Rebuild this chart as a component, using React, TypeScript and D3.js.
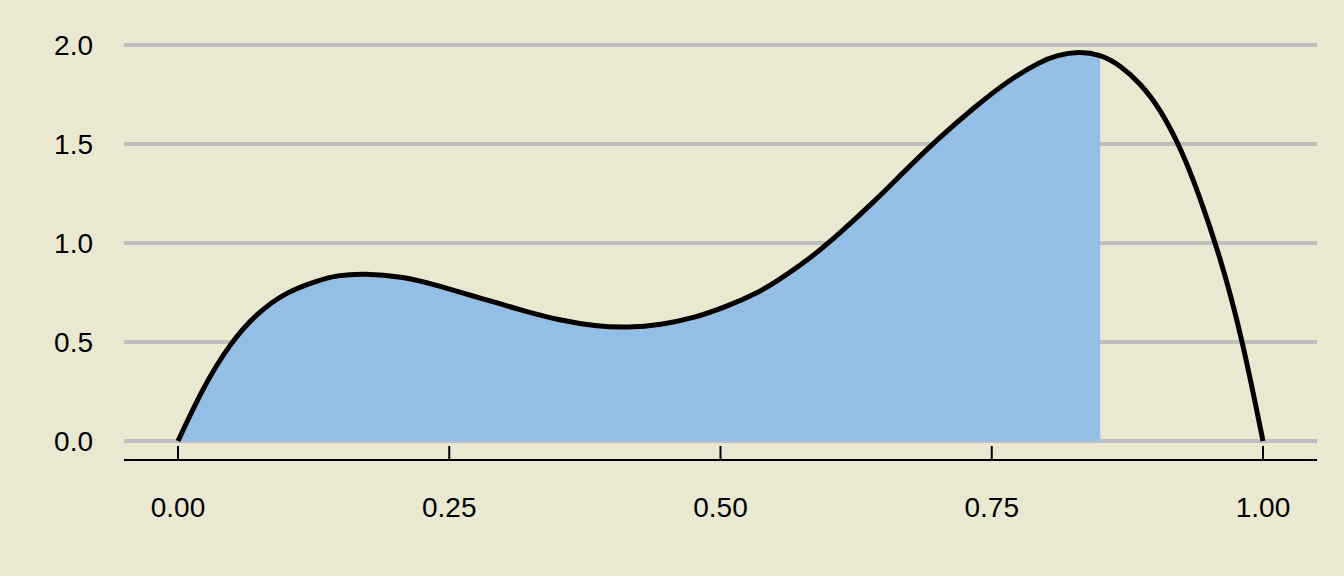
import React from "react";
import * as d3 from "d3";

const xVals = [0, 0.0233, 0.0479, 0.0725, 0.1, 0.13, 0.146, 0.171, 0.208, 0.238, 0.27, 0.29, 0.32, 0.35, 0.385, 0.415, 0.445, 0.475, 0.505, 0.535, 0.55, 0.58, 0.61, 0.64, 0.67, 0.7, 0.735, 0.765, 0.795, 0.81, 0.83, 0.85, 0.868, 0.887, 0.905, 0.925, 0.94, 0.96, 0.98, 1.0];
const yVals = [0, 0.274, 0.493, 0.645, 0.754, 0.812, 0.836, 0.847, 0.83, 0.788, 0.735, 0.704, 0.655, 0.612, 0.579, 0.572, 0.587, 0.62, 0.677, 0.75, 0.8, 0.91, 1.05, 1.2, 1.365, 1.525, 1.69, 1.82, 1.917, 1.948, 1.968, 1.952, 1.899, 1.806, 1.68, 1.47, 1.26, 0.94, 0.54, 0];
const shadeLimit = 0.85;
const xTicks = [0, 0.25, 0.5, 0.75, 1.0];
const xTickLabels = ["0.00", "0.25", "0.50", "0.75", "1.00"];
const yTicks = [0, 0.5, 1.0, 1.5, 2.0];
const yTickLabels = ["0.0", "0.5", "1.0", "1.5", "2.0"];

const W = 1344;
const H = 576;
const BG = "#EBE8D1";
const FILL = "#93BEE5";
const GRID = "#BEBEBE";
const FONT = "'Liberation Sans', Arial, Helvetica, sans-serif";

export default function App() {
  const x = d3.scaleLinear().domain([0, 1]).range([178, 1263]);
  const y = d3.scaleLinear().domain([0, 2]).range([441, 45]);
  const pts = xVals.map((v, i) => [v, yVals[i]] as [number, number]);
  const curve = d3.curveBasis;
  const line = d3
    .line<[number, number]>()
    .x((d) => x(d[0]))
    .y((d) => y(d[1]))
    .curve(curve);
  const area = d3
    .area<[number, number]>()
    .x((d) => x(d[0]))
    .y0(y(0))
    .y1((d) => y(d[1]))
    .curve(curve);
  const left = 124;
  const right = 1317;
  const axisY = 460;
  return (
    <svg
      width={W}
      height={H}
      style={{ position: "absolute", left: 0, top: 0, display: "block" }}
    >
      <defs>
        <clipPath id="shadeClip">
          <rect x={x(0) - 10} y={0} width={x(shadeLimit) - x(0) + 10} height={H} />
        </clipPath>
      </defs>
      <rect x={0} y={0} width={W} height={H} fill={BG} />
      {yTicks.map((t) => (
        <line key={"g" + t} x1={left} x2={right} y1={y(t)} y2={y(t)} stroke={GRID} strokeWidth={4} />
      ))}
      <path d={area(pts) || ""} fill={FILL} clipPath="url(#shadeClip)" />
      <path d={line(pts) || ""} fill="none" stroke="#000" strokeWidth={5} strokeLinejoin="round" />
      <line x1={left} x2={right} y1={axisY} y2={axisY} stroke="#000" strokeWidth={2} />
      {xTicks.map((t, i) => (
        <g key={"x" + t}>
          <line x1={x(t)} x2={x(t)} y1={axisY} y2={446} stroke="#000" strokeWidth={2} />
          <text x={x(t)} y={517} textAnchor="middle" fontFamily={FONT} fontSize={28} fill="#000">
            {xTickLabels[i]}
          </text>
        </g>
      ))}
      {yTicks.map((t, i) => (
        <text key={"y" + t} x={93} y={y(t) + 10} textAnchor="end" fontFamily={FONT} fontSize={28} fill="#000">
          {yTickLabels[i]}
        </text>
      ))}
    </svg>
  );
}
